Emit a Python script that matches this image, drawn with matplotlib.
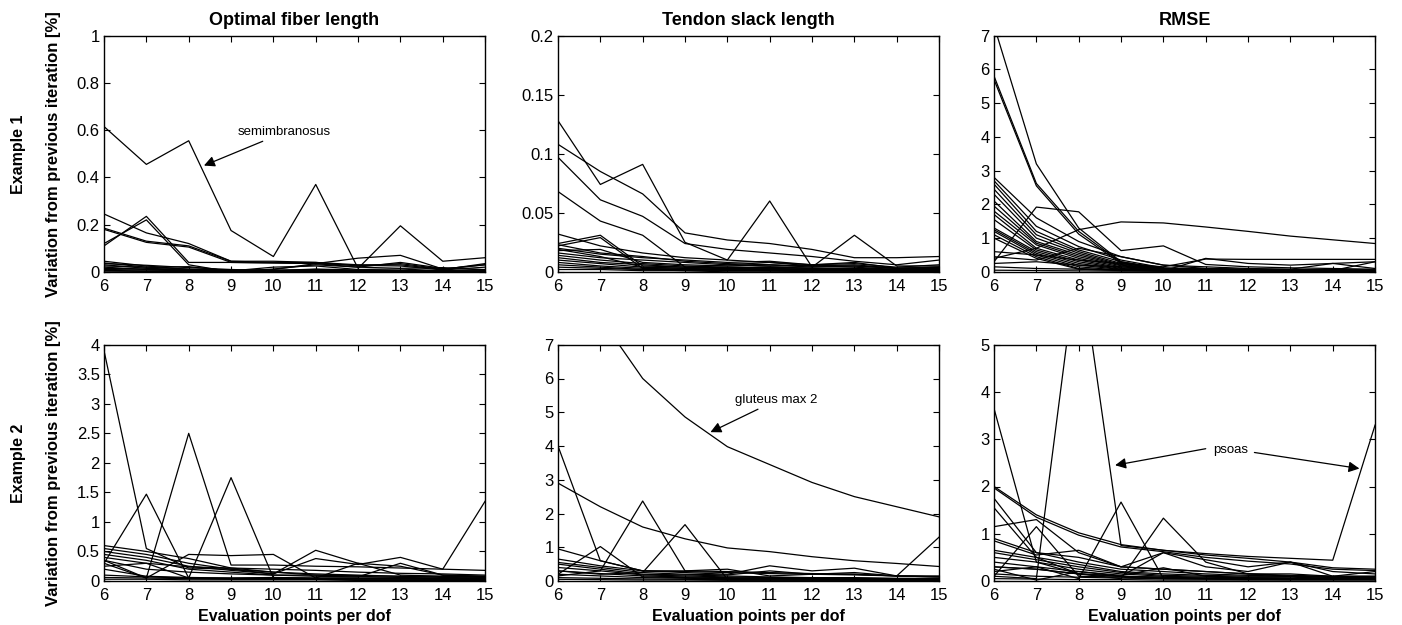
import matplotlib
matplotlib.use("Agg")
import matplotlib.pyplot as plt

plt.rcParams["font.family"] = ["Liberation Sans", "DejaVu Sans"]

x_points = [6, 7, 8, 9, 10, 11, 12, 13, 14, 15]

col_titles = ["Optimal fiber length", "Tendon slack length", "RMSE"]
row_labels = ["Example 1", "Example 2"]
y_label = "Variation from previous iteration [%]"
x_label = "Evaluation points per dof"

# --- Example 1 ---
ex1_fiber = [
    [0.615, 0.455, 0.555, 0.175, 0.065, 0.37, 0.015, 0.195, 0.045, 0.06],
    [0.245, 0.165, 0.12, 0.045, 0.045, 0.04, 0.025, 0.035, 0.012, 0.03],
    [0.185, 0.13, 0.11, 0.045, 0.04, 0.04, 0.03, 0.03, 0.01, 0.035],
    [0.18, 0.125, 0.105, 0.04, 0.038, 0.035, 0.028, 0.025, 0.008, 0.02],
    [0.11, 0.235, 0.04, 0.04, 0.038, 0.035, 0.058, 0.07, 0.012, 0.03],
    [0.12, 0.22, 0.03, 0.0, 0.012, 0.03, 0.02, 0.04, 0.015, 0.01],
    [0.045, 0.025, 0.01, 0.005, 0.01, 0.035, 0.02, 0.015, 0.018, 0.008],
    [0.038, 0.02, 0.022, 0.004, 0.02, 0.025, 0.01, 0.012, 0.005, 0.004],
    [0.035, 0.028, 0.018, 0.01, 0.006, 0.01, 0.006, 0.004, 0.002, 0.002],
    [0.03, 0.015, 0.01, 0.008, 0.005, 0.012, 0.008, 0.005, 0.004, 0.003],
    [0.025, 0.02, 0.012, 0.006, 0.008, 0.006, 0.004, 0.006, 0.003, 0.004],
    [0.02, 0.01, 0.006, 0.004, 0.003, 0.004, 0.003, 0.002, 0.002, 0.002],
    [0.015, 0.012, 0.008, 0.005, 0.004, 0.003, 0.002, 0.003, 0.002, 0.001],
    [0.01, 0.008, 0.005, 0.003, 0.002, 0.002, 0.001, 0.001, 0.001, 0.001],
    [0.006, 0.004, 0.003, 0.002, 0.001, 0.001, 0.001, 0.001, 0.0, 0.0],
    [0.003, 0.002, 0.001, 0.001, 0.0, 0.0, 0.0, 0.0, 0.0, 0.0],
]

ex1_tendon = [
    [0.128, 0.074, 0.091, 0.025, 0.010, 0.060, 0.004, 0.031, 0.005, 0.005],
    [0.108, 0.085, 0.066, 0.033, 0.027, 0.024, 0.019, 0.012, 0.012, 0.013],
    [0.097, 0.061, 0.047, 0.024, 0.019, 0.016, 0.013, 0.009, 0.006, 0.010],
    [0.068, 0.043, 0.031, 0.004, 0.003, 0.004, 0.003, 0.002, 0.002, 0.003],
    [0.032, 0.022, 0.016, 0.012, 0.010, 0.008, 0.006, 0.007, 0.004, 0.006],
    [0.024, 0.031, 0.005, 0.004, 0.006, 0.008, 0.005, 0.006, 0.003, 0.004],
    [0.022, 0.029, 0.003, 0.002, 0.003, 0.004, 0.003, 0.003, 0.002, 0.003],
    [0.023, 0.016, 0.013, 0.009, 0.007, 0.006, 0.005, 0.005, 0.003, 0.004],
    [0.020, 0.015, 0.012, 0.010, 0.008, 0.009, 0.006, 0.008, 0.003, 0.004],
    [0.019, 0.013, 0.004, 0.003, 0.004, 0.003, 0.002, 0.002, 0.001, 0.002],
    [0.018, 0.019, 0.008, 0.006, 0.005, 0.006, 0.004, 0.005, 0.003, 0.003],
    [0.016, 0.012, 0.010, 0.008, 0.006, 0.005, 0.005, 0.004, 0.002, 0.003],
    [0.014, 0.010, 0.007, 0.005, 0.004, 0.004, 0.003, 0.003, 0.002, 0.002],
    [0.012, 0.008, 0.006, 0.004, 0.003, 0.003, 0.002, 0.002, 0.001, 0.002],
    [0.010, 0.007, 0.004, 0.003, 0.002, 0.002, 0.002, 0.001, 0.001, 0.001],
    [0.008, 0.005, 0.003, 0.002, 0.002, 0.001, 0.001, 0.001, 0.001, 0.001],
    [0.006, 0.004, 0.002, 0.002, 0.001, 0.001, 0.001, 0.001, 0.0, 0.0],
    [0.004, 0.003, 0.002, 0.001, 0.001, 0.001, 0.0, 0.0, 0.0, 0.0],
    [0.002, 0.002, 0.001, 0.001, 0.0, 0.0, 0.0, 0.0, 0.0, 0.0],
]

ex1_rmse = [
    [7.3, 3.2, 1.3, 0.3, 0.08, 0.05, 0.04, 0.03, 0.03, 0.03],
    [5.8, 2.62, 1.2, 0.28, 0.1, 0.06, 0.05, 0.04, 0.04, 0.04],
    [5.7, 2.55, 1.12, 0.25, 0.09, 0.05, 0.04, 0.04, 0.03, 0.03],
    [2.8, 1.6, 0.9, 0.45, 0.2, 0.1, 0.08, 0.06, 0.06, 0.05],
    [2.7, 1.35, 0.75, 0.35, 0.12, 0.1, 0.08, 0.07, 0.06, 0.06],
    [2.6, 1.2, 0.65, 0.3, 0.1, 0.08, 0.06, 0.05, 0.05, 0.04],
    [2.45, 1.1, 0.6, 0.25, 0.1, 0.07, 0.06, 0.05, 0.05, 0.04],
    [2.3, 1.0, 0.55, 0.22, 0.08, 0.06, 0.05, 0.05, 0.04, 0.04],
    [2.1, 0.9, 0.5, 0.2, 0.07, 0.06, 0.05, 0.04, 0.04, 0.03],
    [1.95, 0.85, 0.45, 0.18, 0.06, 0.05, 0.04, 0.04, 0.03, 0.03],
    [1.8, 0.8, 0.4, 0.15, 0.05, 0.04, 0.04, 0.03, 0.03, 0.03],
    [1.7, 0.7, 0.35, 0.12, 0.05, 0.04, 0.03, 0.03, 0.03, 0.02],
    [1.55, 0.65, 0.3, 0.1, 0.04, 0.03, 0.03, 0.03, 0.02, 0.02],
    [1.3, 0.6, 0.25, 0.08, 0.04, 0.03, 0.03, 0.02, 0.02, 0.02],
    [1.25, 0.55, 0.2, 0.07, 0.03, 0.03, 0.02, 0.02, 0.02, 0.02],
    [1.2, 0.5, 0.15, 0.05, 0.03, 0.02, 0.02, 0.02, 0.02, 0.02],
    [1.1, 0.45, 0.1, 0.05, 0.03, 0.4, 0.25, 0.2, 0.25, 0.3],
    [1.0, 0.4, 0.08, 0.04, 0.03, 0.02, 0.02, 0.02, 0.02, 0.02],
    [0.3, 1.92, 1.78, 0.63, 0.77, 0.22, 0.15, 0.12, 0.1, 0.08],
    [0.4, 0.7, 1.25, 1.48, 1.45, 1.33, 1.2, 1.06, 0.95, 0.84],
    [0.6, 0.5, 0.35, 0.25, 0.15, 0.38, 0.37, 0.37, 0.37, 0.37],
    [0.45, 0.35, 0.7, 0.45, 0.2, 0.15, 0.1, 0.08, 0.25, 0.1],
    [0.25, 0.3, 0.2, 0.15, 0.1, 0.08, 0.06, 0.05, 0.04, 0.3],
    [0.15, 0.1, 0.08, 0.05, 0.04, 0.03, 0.03, 0.02, 0.02, 0.02],
    [0.05, 0.04, 0.03, 0.02, 0.02, 0.01, 0.01, 0.01, 0.01, 0.01],
]

# --- Example 2 ---
ex2_fiber = [
    [3.9, 0.55, 0.22, 0.2, 0.15, 0.12, 0.1, 0.08, 0.06, 0.05],
    [0.35, 0.05, 2.5, 0.27, 0.27, 0.25, 0.24, 0.22, 0.2, 0.18],
    [0.3, 1.47, 0.05, 0.05, 0.06, 0.05, 0.05, 0.05, 0.04, 0.04],
    [0.25, 0.3, 0.05, 1.75, 0.05, 0.05, 0.05, 0.05, 0.04, 0.04],
    [0.3, 0.05, 0.45, 0.43, 0.45, 0.05, 0.3, 0.25, 0.1, 0.08],
    [0.6, 0.5, 0.38, 0.22, 0.15, 0.1, 0.08, 0.06, 0.05, 0.05],
    [0.55, 0.45, 0.3, 0.2, 0.12, 0.52, 0.3, 0.1, 0.08, 0.06],
    [0.5, 0.4, 0.25, 0.18, 0.12, 0.38, 0.28, 0.4, 0.2, 1.35],
    [0.45, 0.35, 0.2, 0.15, 0.1, 0.08, 0.07, 0.3, 0.1, 0.08],
    [0.4, 0.3, 0.24, 0.22, 0.2, 0.18, 0.15, 0.13, 0.12, 0.1],
    [0.35, 0.2, 0.15, 0.12, 0.1, 0.1, 0.09, 0.08, 0.08, 0.07],
    [0.2, 0.08, 0.06, 0.05, 0.05, 0.04, 0.04, 0.04, 0.03, 0.03],
    [0.1, 0.07, 0.05, 0.04, 0.04, 0.03, 0.03, 0.03, 0.03, 0.03],
    [0.06, 0.05, 0.04, 0.03, 0.03, 0.03, 0.02, 0.02, 0.02, 0.02],
    [0.03, 0.03, 0.02, 0.02, 0.02, 0.02, 0.01, 0.01, 0.01, 0.01],
]

ex2_tendon = [
    [10.0, 7.8, 6.0, 4.86, 3.98, 3.45, 2.92, 2.5, 2.2, 1.9],
    [2.9, 2.2, 1.6, 1.25, 0.98, 0.87, 0.72, 0.6, 0.52, 0.43],
    [4.0, 0.6, 0.3, 0.28, 0.25, 0.22, 0.2, 0.18, 0.15, 0.12],
    [0.15, 0.3, 2.37, 0.3, 0.28, 0.25, 0.22, 0.2, 0.15, 0.13],
    [0.2, 1.02, 0.12, 0.1, 0.08, 0.07, 0.06, 0.05, 0.05, 0.05],
    [0.3, 0.2, 0.25, 1.67, 0.05, 0.08, 0.06, 0.05, 0.05, 0.05],
    [0.95, 0.6, 0.3, 0.25, 0.2, 0.45, 0.3, 0.38, 0.15, 0.12],
    [0.65, 0.45, 0.3, 0.3, 0.35, 0.15, 0.2, 0.2, 0.15, 0.15],
    [0.55, 0.4, 0.25, 0.2, 0.18, 0.3, 0.2, 0.25, 0.15, 1.3],
    [0.5, 0.35, 0.2, 0.18, 0.15, 0.12, 0.1, 0.1, 0.08, 0.08],
    [0.4, 0.3, 0.18, 0.15, 0.12, 0.1, 0.1, 0.08, 0.07, 0.07],
    [0.3, 0.22, 0.15, 0.12, 0.1, 0.08, 0.08, 0.07, 0.06, 0.06],
    [0.2, 0.15, 0.1, 0.08, 0.07, 0.06, 0.05, 0.05, 0.04, 0.04],
    [0.1, 0.08, 0.06, 0.05, 0.04, 0.04, 0.03, 0.03, 0.03, 0.03],
    [0.05, 0.04, 0.03, 0.03, 0.02, 0.02, 0.02, 0.02, 0.02, 0.02],
]

ex2_rmse = [
    [0.1, 0.05, 7.0, 0.75, 0.65, 0.58, 0.52, 0.48, 0.44, 3.3],
    [2.0, 1.4, 1.02, 0.77, 0.65, 0.55, 0.48, 0.4, 0.28, 0.25],
    [1.97, 1.35, 0.97, 0.72, 0.62, 0.5, 0.42, 0.36, 0.25, 0.22],
    [3.65, 0.4, 0.15, 0.1, 0.08, 0.06, 0.05, 0.05, 0.04, 0.04],
    [0.1, 1.15, 0.1, 0.08, 0.05, 0.05, 0.05, 0.04, 0.04, 0.04],
    [0.2, 0.3, 0.05, 1.67, 0.05, 0.05, 0.04, 0.04, 0.04, 0.04],
    [0.3, 0.25, 0.15, 0.05, 1.33, 0.4, 0.15, 0.1, 0.08, 0.06],
    [1.75, 0.6, 0.5, 0.3, 0.6, 0.3, 0.2, 0.4, 0.1, 0.2],
    [1.55, 0.5, 0.15, 0.1, 0.6, 0.45, 0.3, 0.4, 0.2, 0.15],
    [1.15, 1.3, 0.6, 0.3, 0.25, 0.2, 0.15, 0.12, 0.1, 0.1],
    [0.9, 0.6, 0.4, 0.25, 0.2, 0.15, 0.12, 0.1, 0.08, 0.08],
    [0.85, 0.55, 0.65, 0.3, 0.25, 0.2, 0.15, 0.15, 0.1, 0.1],
    [0.65, 0.5, 0.35, 0.2, 0.15, 0.12, 0.1, 0.1, 0.08, 0.08],
    [0.6, 0.45, 0.3, 0.18, 0.12, 0.1, 0.08, 0.08, 0.06, 0.06],
    [0.5, 0.4, 0.25, 0.15, 0.1, 0.08, 0.07, 0.06, 0.05, 0.05],
    [0.4, 0.3, 0.2, 0.12, 0.28, 0.1, 0.06, 0.05, 0.04, 0.04],
    [0.3, 0.25, 0.15, 0.1, 0.08, 0.06, 0.05, 0.04, 0.04, 0.04],
    [0.25, 0.02, 0.2, 0.1, 0.06, 0.05, 0.04, 0.03, 0.03, 0.03],
    [0.15, 0.1, 0.08, 0.06, 0.05, 0.04, 0.03, 0.03, 0.03, 0.03],
    [0.05, 0.04, 0.03, 0.03, 0.02, 0.02, 0.02, 0.02, 0.02, 0.02],
]

panel_data = [[ex1_fiber, ex1_tendon, ex1_rmse], [ex2_fiber, ex2_tendon, ex2_rmse]]

y_ticks = [
    [[0, 0.2, 0.4, 0.6, 0.8, 1], [0, 0.05, 0.1, 0.15, 0.2], [0, 1, 2, 3, 4, 5, 6, 7]],
    [[0, 0.5, 1, 1.5, 2, 2.5, 3, 3.5, 4], [0, 1, 2, 3, 4, 5, 6, 7], [0, 1, 2, 3, 4, 5]],
]
y_ticklabels = [
    [["0", "0.2", "0.4", "0.6", "0.8", "1"], ["0", "0.05", "0.1", "0.15", "0.2"],
     ["0", "1", "2", "3", "4", "5", "6", "7"]],
    [["0", "0.5", "1", "1.5", "2", "2.5", "3", "3.5", "4"], ["0", "1", "2", "3", "4", "5", "6", "7"],
     ["0", "1", "2", "3", "4", "5"]],
]

fig = plt.figure(figsize=(14.02, 6.25), dpi=100)

lefts = [0.0742, 0.398, 0.709]
bottoms = [0.565, 0.0704]
width, height = 0.2718, 0.378

axes = [[None] * 3 for _ in range(2)]
for r in range(2):
    for c in range(3):
        ax = fig.add_axes([lefts[c], bottoms[r], width, height])
        axes[r][c] = ax
        for series in panel_data[r][c]:
            ax.plot(x_points, series, color="black", lw=0.9)
        ax.set_xlim(6, 15)
        ax.set_ylim(y_ticks[r][c][0], y_ticks[r][c][-1])
        ax.set_xticks(x_points)
        ax.set_xticklabels([str(v) for v in x_points])
        ax.set_yticks(y_ticks[r][c])
        ax.set_yticklabels(y_ticklabels[r][c])
        ax.tick_params(direction="in", length=4, width=0.8, top=True, right=True,
                       labelsize=12, colors="black")
        ax.tick_params(axis="x", pad=5)
        ax.tick_params(axis="y", pad=3)
        for sp in ax.spines.values():
            sp.set_linewidth(1.0)
        if r == 0:
            ax.set_title(col_titles[c], fontsize=13, fontweight="bold", pad=8)
        else:
            ax.set_xlabel(x_label, fontsize=11.5, fontweight="bold", labelpad=4)
        if c == 0:
            ax.set_ylabel(y_label, fontsize=12, fontweight="bold")
            ax.yaxis.set_label_coords(-0.114, 0.5)
            fig.text(0.013, bottoms[r] + height / 2, row_labels[r], rotation=90,
                     fontsize=11.5, fontweight="bold", ha="center", va="center")

arrow = dict(arrowstyle="-|>", color="black", lw=0.9, mutation_scale=16,
             shrinkA=0, shrinkB=0)

axes[0][0].annotate("semimbranosus", xy=(8.36, 0.45), xytext=(9.15, 0.59),
                    fontsize=9.5, ha="left", va="center", arrowprops=arrow)
axes[1][1].annotate("gluteus max 2", xy=(9.6, 4.41), xytext=(10.18, 5.35),
                    fontsize=9.5, ha="left", va="center", arrowprops=arrow)
ax6 = axes[1][2]
ax6.text(11.6, 2.78, "psoas", fontsize=9.5, ha="center", va="center")
ax6.annotate("", xy=(8.86, 2.45), xytext=(11.0, 2.8), arrowprops=arrow)
ax6.annotate("", xy=(14.63, 2.38), xytext=(12.15, 2.72), arrowprops=arrow)

fig.savefig("out.png", dpi=100, facecolor="white")
